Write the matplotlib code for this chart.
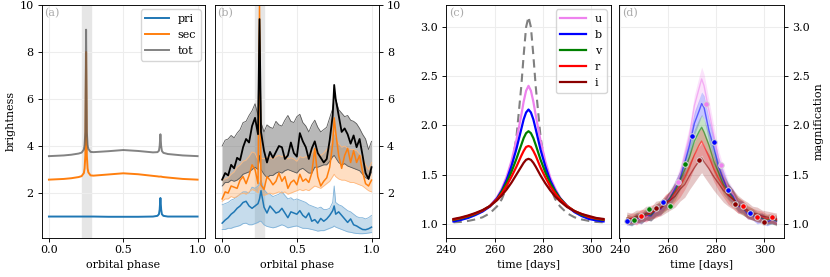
import matplotlib
matplotlib.use("Agg")
import matplotlib.pyplot as plt
import numpy as np

plt.rcParams["font.family"] = "serif"
plt.rcParams["font.serif"] = ["DejaVu Serif"]
plt.rcParams["font.size"] = 8
plt.rcParams["axes.linewidth"] = 0.65
plt.rcParams["axes.labelpad"] = 3.0
for ax_name in ("xtick", "ytick"):
    plt.rcParams[f"{ax_name}.major.size"] = 2.8
    plt.rcParams[f"{ax_name}.major.pad"] = 2.8
    plt.rcParams[f"{ax_name}.major.width"] = 0.65

# ---- panel (a): model light curves over one orbit
phase_a = [0.0, 0.1, 0.15, 0.2, 0.22, 0.235, 0.24, 0.245, 0.25, 0.255, 0.26, 0.265, 0.28, 0.3,
           0.4, 0.5, 0.6, 0.7, 0.73, 0.74, 0.745, 0.75, 0.755, 0.76, 0.77, 0.8, 0.9, 1.0]
pri = [1.0, 1.0, 1.0, 1.0, 1.0, 1.0, 1.0, 1.0, 1.0, 1.0, 1.0, 1.0, 1.0, 1.0,
       0.99, 0.99, 0.99, 1.0, 1.03, 1.1, 1.3, 1.79, 1.3, 1.1, 1.03, 1.0, 1.0, 1.0]
sec = [2.57, 2.6, 2.63, 2.68, 2.72, 2.85, 3.05, 3.6, 8.0, 3.6, 3.05, 2.88, 2.75, 2.74,
       2.79, 2.84, 2.8, 2.73, 2.71, 2.7, 2.7, 2.7, 2.7, 2.69, 2.68, 2.66, 2.6, 2.57]
tot = [3.57, 3.6, 3.63, 3.68, 3.72, 3.85, 4.05, 4.6, 8.95, 4.6, 4.05, 3.88, 3.75, 3.74,
       3.78, 3.83, 3.79, 3.73, 3.74, 3.8, 4.0, 4.5, 4.0, 3.79, 3.71, 3.66, 3.6, 3.57]

# ---- panel (b): retrieved light curves (median and band)
phase_b = [0.00, 0.02, 0.04, 0.06, 0.08, 0.10, 0.12, 0.14, 0.16, 0.18, 0.20, 0.22, 0.24, 0.25,
           0.26, 0.28, 0.30, 0.32, 0.34, 0.36, 0.38, 0.40, 0.42, 0.44, 0.46, 0.48, 0.50, 0.52,
           0.54, 0.56, 0.58, 0.60, 0.62, 0.64, 0.66, 0.68, 0.70, 0.72, 0.74, 0.75, 0.76, 0.78,
           0.80, 0.82, 0.84, 0.86, 0.88, 0.90, 0.92, 0.94, 0.96, 0.98, 1.00]
tot_med = [2.57, 2.85, 2.75, 3.2, 3.05, 3.5, 3.4, 3.95, 4.3, 4.15, 4.85, 5.2, 4.5, 9.4,
           4.6, 3.8, 3.3, 3.75, 3.5, 3.75, 4.0, 3.95, 3.45, 3.6, 4.15, 3.7, 3.55, 4.55,
           4.2, 3.95, 3.45, 3.9, 4.2, 3.7, 3.5, 3.3, 3.45, 4.25, 5.3, 6.6, 6.0, 5.3,
           4.6, 4.75, 4.5, 4.1, 4.45, 3.95, 4.3, 3.6, 2.85, 2.6, 3.1]
tot_hi = [4.0, 4.25, 4.3, 4.45, 4.35, 4.55, 4.7, 5.0, 5.05, 5.3, 5.5, 5.8, 5.3, 9.5,
          5.0, 4.6, 4.9, 4.8, 4.75, 5.05, 4.9, 4.85, 5.1, 5.3, 5.05, 5.0, 5.25, 5.35,
          5.0, 4.85, 4.6, 4.9, 5.1, 4.8, 4.6, 4.7, 4.8, 5.2, 5.6, 6.1, 6.0, 5.55,
          5.4, 5.25, 5.3, 5.1, 5.05, 4.95, 4.75, 4.5, 4.3, 3.85, 4.2]
tot_lo = [2.3, 2.45, 2.45, 2.55, 2.5, 2.55, 2.65, 2.8, 2.85, 2.9, 3.0, 3.1, 3.0, 3.6,
          3.0, 2.8, 2.65, 2.75, 2.75, 2.85, 2.9, 2.85, 2.95, 3.0, 2.95, 2.9, 2.85, 3.0,
          3.05, 2.95, 2.85, 2.85, 3.1, 3.1, 3.15, 3.2, 3.2, 3.35, 3.55, 3.6, 3.5, 3.3,
          3.2, 3.25, 3.15, 3.1, 3.05, 3.0, 2.95, 2.8, 2.65, 2.6, 2.9]
sec_med = [1.75, 2.05, 2.0, 2.3, 2.25, 2.2, 2.55, 2.7, 2.4, 2.75, 3.2, 3.0, 2.4, 9.95,
           2.35, 2.15, 2.7, 2.55, 2.35, 2.5, 2.85, 2.5, 2.7, 2.2, 2.45, 2.55, 2.35, 2.8,
           2.5, 2.6, 2.45, 2.85, 3.9, 2.7, 2.3, 2.5, 2.65, 3.1, 4.1, 5.2, 4.6, 3.6,
           3.05, 3.6, 3.9, 3.3, 3.8, 3.3, 3.6, 2.9, 2.4, 2.3, 2.55]
sec_hi = [2.55, 2.6, 2.65, 2.8, 2.9, 3.1, 3.2, 3.35, 3.4, 3.55, 3.75, 3.7, 3.4, 6.0,
          3.5, 3.45, 3.55, 3.5, 3.45, 3.55, 3.6, 3.55, 3.6, 3.45, 3.5, 3.45, 3.35, 3.55,
          3.5, 3.55, 3.5, 3.7, 3.85, 3.7, 3.6, 3.7, 3.85, 4.0, 4.3, 4.6, 4.4, 4.1,
          3.95, 4.0, 3.9, 3.85, 3.85, 3.8, 3.65, 3.5, 3.2, 3.0, 3.3]
sec_lo = [1.65, 1.75, 1.75, 1.85, 1.8, 1.85, 1.95, 2.0, 1.95, 2.05, 2.15, 2.1, 2.0, 2.3,
          1.95, 1.9, 1.95, 2.0, 1.95, 2.0, 2.05, 2.0, 2.05, 1.95, 2.0, 2.05, 2.1, 2.15,
          2.1, 2.15, 2.1, 2.2, 2.3, 2.25, 2.2, 2.3, 2.4, 2.5, 2.7, 2.8, 2.7, 2.6,
          2.55, 2.55, 2.5, 2.45, 2.45, 2.4, 2.35, 2.3, 2.2, 2.1, 2.05]
pri_med = [0.72, 0.85, 0.95, 1.1, 1.2, 1.35, 1.45, 1.6, 1.65, 1.45, 1.35, 1.45, 1.55, 1.75,
           2.1, 1.4, 1.15, 1.45, 1.3, 1.15, 1.2, 1.35, 1.15, 0.95, 1.2, 1.15, 1.1, 1.25,
           1.05, 0.95, 1.15, 0.8, 0.87, 0.72, 0.92, 0.8, 0.9, 1.05, 1.25, 1.45, 1.1, 1.2,
           1.05, 0.9, 0.75, 0.9, 0.65, 0.6, 0.52, 0.45, 0.44, 0.48, 0.55]
pri_hi = [1.5, 1.55, 1.6, 1.7, 1.75, 1.85, 1.95, 2.05, 2.05, 2.0, 2.25, 2.2, 2.3, 2.4,
          2.55, 2.15, 2.0, 1.95, 1.85, 1.9, 1.95, 2.05, 1.9, 1.75, 1.8, 1.7, 1.75, 1.7,
          1.65, 1.6, 1.5, 1.45, 1.4, 1.35, 1.4, 1.3, 1.3, 1.35, 1.6, 2.3, 1.6, 1.5,
          1.45, 1.35, 1.25, 1.2, 1.1, 1.0, 0.95, 0.95, 0.9, 0.95, 1.05]
pri_lo = [0.45, 0.45, 0.5, 0.5, 0.55, 0.58, 0.62, 0.7, 0.72, 0.65, 0.65, 0.7, 0.75, 0.8,
          0.8, 0.65, 0.58, 0.55, 0.52, 0.55, 0.6, 0.65, 0.6, 0.52, 0.55, 0.58, 0.6, 0.55,
          0.5, 0.5, 0.48, 0.45, 0.42, 0.38, 0.4, 0.4, 0.45, 0.5, 0.55, 0.6, 0.55, 0.5,
          0.45, 0.4, 0.35, 0.33, 0.3, 0.28, 0.27, 0.27, 0.28, 0.3, 0.32]
eclipse = (0.22, 0.28)

# ---- panel (c): model magnification per filter
t_c = [243, 246, 249, 252, 255, 258, 261, 263, 265, 267, 269, 271, 272, 273, 274,
       275, 276, 277, 279, 281, 283, 285, 287, 290, 293, 296, 299, 302, 305]
mag_true = [1.016, 1.02, 1.03, 1.045, 1.067, 1.107, 1.178, 1.252, 1.372, 1.563, 1.878, 2.39, 2.71,
            2.995, 3.10, 2.995, 2.71, 2.39, 1.878, 1.563, 1.372, 1.252, 1.178, 1.107, 1.067,
            1.045, 1.03, 1.02, 1.016]
mag_u = [1.03, 1.045, 1.065, 1.09, 1.13, 1.18, 1.27, 1.36, 1.48, 1.64, 1.85, 2.10, 2.24, 2.35, 2.40,
         2.35, 2.24, 2.10, 1.84, 1.63, 1.47, 1.36, 1.27, 1.18, 1.12, 1.08, 1.055, 1.04, 1.03]
mag_b = [1.025, 1.04, 1.06, 1.09, 1.125, 1.175, 1.26, 1.34, 1.45, 1.59, 1.76, 1.96, 2.06, 2.13, 2.16,
         2.13, 2.06, 1.96, 1.75, 1.58, 1.44, 1.34, 1.26, 1.18, 1.12, 1.08, 1.05, 1.035, 1.025]
mag_v = [1.04, 1.055, 1.075, 1.10, 1.135, 1.18, 1.25, 1.33, 1.42, 1.53, 1.66, 1.80, 1.87, 1.92, 1.94,
         1.92, 1.87, 1.80, 1.65, 1.52, 1.41, 1.33, 1.26, 1.18, 1.13, 1.09, 1.07, 1.05, 1.04]
mag_r = [1.045, 1.06, 1.08, 1.105, 1.135, 1.18, 1.25, 1.31, 1.39, 1.48, 1.58, 1.69, 1.74, 1.78, 1.79,
         1.78, 1.74, 1.69, 1.57, 1.47, 1.38, 1.31, 1.25, 1.18, 1.13, 1.10, 1.07, 1.055, 1.045]
mag_i = [1.05, 1.065, 1.085, 1.11, 1.14, 1.18, 1.24, 1.29, 1.35, 1.42, 1.50, 1.58, 1.62, 1.65, 1.66,
         1.65, 1.62, 1.58, 1.49, 1.41, 1.34, 1.28, 1.23, 1.17, 1.13, 1.10, 1.08, 1.06, 1.05]

# ---- panel (d): retrieved magnification per filter + observations
t_d = [243, 245, 247, 249, 251, 253, 255, 257, 259, 261, 263, 265, 267, 269, 271, 273, 274,
       275, 277, 279, 281, 283, 285, 287, 289, 291, 293, 295, 297, 299, 301, 303, 305]
fit_u = [1.02, 1.05, 1.03, 1.08, 1.07, 1.11, 1.12, 1.18, 1.2, 1.3, 1.37, 1.5, 1.7, 1.9, 2.2, 2.38, 2.47,
         2.4, 2.15, 1.9, 1.66, 1.5, 1.37, 1.3, 1.2, 1.18, 1.11, 1.1, 1.06, 1.07, 1.03, 1.05, 1.02]
fit_b = [1.03, 1.02, 1.06, 1.05, 1.09, 1.08, 1.14, 1.15, 1.22, 1.26, 1.36, 1.45, 1.62, 1.8, 2.02, 2.15, 2.22,
         2.18, 1.95, 1.78, 1.58, 1.45, 1.33, 1.28, 1.18, 1.17, 1.1, 1.09, 1.05, 1.06, 1.02, 1.04, 1.03]
fit_v = [1.05, 1.03, 1.07, 1.06, 1.1, 1.09, 1.14, 1.17, 1.2, 1.27, 1.33, 1.44, 1.55, 1.68, 1.84, 1.94, 1.98,
         1.93, 1.8, 1.64, 1.52, 1.4, 1.33, 1.26, 1.2, 1.16, 1.12, 1.1, 1.07, 1.06, 1.04, 1.05, 1.03]
fit_r = [1.04, 1.06, 1.05, 1.09, 1.08, 1.12, 1.13, 1.16, 1.22, 1.24, 1.32, 1.38, 1.47, 1.58, 1.7, 1.8, 1.84,
         1.79, 1.68, 1.56, 1.46, 1.38, 1.3, 1.25, 1.19, 1.17, 1.12, 1.1, 1.08, 1.07, 1.05, 1.06, 1.04]
fit_i = [1.06, 1.05, 1.08, 1.07, 1.11, 1.1, 1.15, 1.16, 1.2, 1.24, 1.28, 1.35, 1.4, 1.49, 1.57, 1.64, 1.67,
         1.63, 1.56, 1.48, 1.41, 1.34, 1.29, 1.25, 1.2, 1.17, 1.14, 1.11, 1.1, 1.08, 1.07, 1.06, 1.05]
spread_u = [0.04, 0.04, 0.04, 0.05, 0.05, 0.05, 0.05, 0.05, 0.06, 0.06, 0.07, 0.08, 0.09, 0.1, 0.11, 0.12, 0.12,
            0.12, 0.11, 0.1, 0.09, 0.08, 0.07, 0.06, 0.06, 0.05, 0.05, 0.05, 0.05, 0.04, 0.04, 0.04, 0.04]
spread_b = [0.04, 0.04, 0.05, 0.05, 0.05, 0.05, 0.06, 0.06, 0.06, 0.07, 0.08, 0.09, 0.1, 0.11, 0.12, 0.12, 0.12,
            0.12, 0.12, 0.11, 0.1, 0.09, 0.08, 0.07, 0.06, 0.06, 0.05, 0.05, 0.05, 0.05, 0.04, 0.04, 0.04]
spread_v = [0.05, 0.05, 0.05, 0.05, 0.06, 0.06, 0.06, 0.07, 0.07, 0.08, 0.09, 0.1, 0.11, 0.12, 0.12, 0.13, 0.13,
            0.13, 0.12, 0.12, 0.11, 0.1, 0.09, 0.08, 0.07, 0.07, 0.06, 0.06, 0.05, 0.05, 0.05, 0.05, 0.05]
spread_r = [0.05, 0.05, 0.06, 0.06, 0.06, 0.07, 0.07, 0.07, 0.08, 0.09, 0.1, 0.11, 0.12, 0.13, 0.13, 0.14, 0.14,
            0.14, 0.13, 0.13, 0.12, 0.11, 0.1, 0.09, 0.08, 0.07, 0.07, 0.06, 0.06, 0.06, 0.05, 0.05, 0.05]
spread_i = [0.06, 0.06, 0.06, 0.07, 0.07, 0.07, 0.08, 0.08, 0.09, 0.1, 0.11, 0.12, 0.13, 0.14, 0.15, 0.15, 0.15,
            0.15, 0.15, 0.14, 0.13, 0.12, 0.11, 0.1, 0.09, 0.08, 0.08, 0.07, 0.07, 0.06, 0.06, 0.06, 0.06]
obs_t = [243, 246, 249, 252, 255, 258, 261, 264, 267, 270, 273, 276, 279, 282, 285, 288, 291, 294, 297, 300, 303]
obs_mag = [1.03, 1.035, 1.08, 1.15, 1.165, 1.225, 1.18, 1.42, 1.61, 1.895, 1.65, 2.22, 1.83, 1.60,
           1.345, 1.20, 1.18, 1.115, 1.065, 1.02, 1.065]
obs_band = ["b", "v", "r", "v", "i", "b", "v", "u", "v", "b", "i", "u", "b", "u", "b", "i", "r", "b", "r", "i", "r"]

bands = ["u", "b", "v", "r", "i"]
band_colors = {"u": "violet", "b": "blue", "v": "green", "r": "red", "i": "darkred"}
model_c = {"u": mag_u, "b": mag_b, "v": mag_v, "r": mag_r, "i": mag_i}
fit_d = {"u": fit_u, "b": fit_b, "v": fit_v, "r": fit_r, "i": fit_i}
spread_d = {"u": spread_u, "b": spread_b, "v": spread_v, "r": spread_r, "i": spread_i}


def style(ax, label):
    ax.grid(color="0.93", lw=0.8)
    ax.set_axisbelow(True)
    ax.annotate(label, xy=(0, 1), xycoords="axes fraction", xytext=(2, -2),
                textcoords="offset points", ha="left", va="top", color="0.67", fontsize=8)


def band(ax, x, lo, hi, color, fill_alpha, edge):
    ax.fill_between(x, lo, hi, color=color, alpha=fill_alpha, lw=0)
    ax.plot(x, lo, color=edge, lw=0.6)
    ax.plot(x, hi, color=edge, lw=0.6)


fig = plt.figure(figsize=(8.3, 2.77), dpi=100)
W, H = 830, 277
ax_a = fig.add_axes([41.5 / W, 1 - 237.7 / H, 163.5 / W, 232.7 / H])
ax_b = fig.add_axes([214.7 / W, 1 - 237.7 / H, 164.3 / W, 232.7 / H], sharey=ax_a)
ax_c = fig.add_axes([446 / W, 1 - 237.7 / H, 165 / W, 232.7 / H])
ax_d = fig.add_axes([619.3 / W, 1 - 237.7 / H, 164.7 / W, 232.7 / H], sharey=ax_c)

# (a)
ax_a.axvspan(*eclipse, color="0.9", zorder=0)
ax_a.plot(phase_a, pri, color="C0", lw=1.4, label="pri")
ax_a.plot(phase_a, sec, color="C1", lw=1.4, label="sec")
ax_a.plot(phase_a, tot, color="0.35", lw=1.4, alpha=0.75, label="tot")
ax_a.set_ylim(0.1, 10)
ax_a.set_yticks([2, 4, 6, 8, 10])
ax_a.set_xticks([0, 0.5, 1.0])
ax_a.set_xlabel("orbital phase")
ax_a.set_ylabel("brightness")
ax_a.legend(loc="upper right", handlelength=2.1, labelspacing=0.55, borderaxespad=0.4)
style(ax_a, "(a)")

# (b)
ax_b.axvspan(*eclipse, color="0.9", zorder=0)
band(ax_b, phase_b, pri_lo, pri_hi, "C0", 0.25, "#7fb2d9")
band(ax_b, phase_b, sec_lo, sec_hi, "C1", 0.25, "#ffb77a")
band(ax_b, phase_b, tot_lo, tot_hi, "0.45", 0.5, "0.35")
ax_b.plot(phase_b, pri_med, color="C0", lw=1.1)
ax_b.plot(phase_b, sec_med, color="C1", lw=1.1)
ax_b.plot(phase_b, tot_med, color="k", lw=1.3)
ax_b.set_xticks([0, 0.5, 1.0])
ax_b.set_xlabel("orbital phase")
ax_b.yaxis.tick_right()
ax_b.tick_params(axis="y", labelleft=False, labelright=True)
style(ax_b, "(b)")

# (c)
ax_c.plot(t_c, mag_true, color="gray", lw=1.5, ls=(0, (4, 2.5)))
for b in bands:
    ax_c.plot(t_c, model_c[b], color=band_colors[b], lw=1.6, label=b)
ax_c.set_ylim(0.86, 3.22)
ax_c.set_yticks([1.0, 1.5, 2.0, 2.5, 3.0])
ax_c.set_xticks([240, 260, 280, 300])
ax_c.set_xlabel("time [days]")
ax_c.legend(loc="upper right", handlelength=2.3, labelspacing=0.55, borderaxespad=0.4)
style(ax_c, "(c)")

# (d)
for b in bands:
    med = np.array(fit_d[b])
    sp = np.array(spread_d[b])
    ax_d.fill_between(t_d, med - sp, med + sp, color=band_colors[b], alpha=0.22, lw=0)
    ax_d.plot(t_d, med, color=band_colors[b], lw=1.0, alpha=0.55)
for t, m, b in zip(obs_t, obs_mag, obs_band):
    ax_d.scatter(t, m, s=16, color=band_colors[b], edgecolors="0.85", linewidths=0.7, zorder=5)
ax_d.set_xlim(ax_c.get_xlim())
ax_d.set_xticks([240, 260, 280, 300])
ax_d.set_xlabel("time [days]")
ax_d.yaxis.tick_right()
ax_d.yaxis.set_label_position("right")
ax_d.tick_params(axis="y", labelleft=False, labelright=True)
ax_d.set_ylabel("magnification")
style(ax_d, "(d)")

fig.savefig("out.png", dpi=100)
